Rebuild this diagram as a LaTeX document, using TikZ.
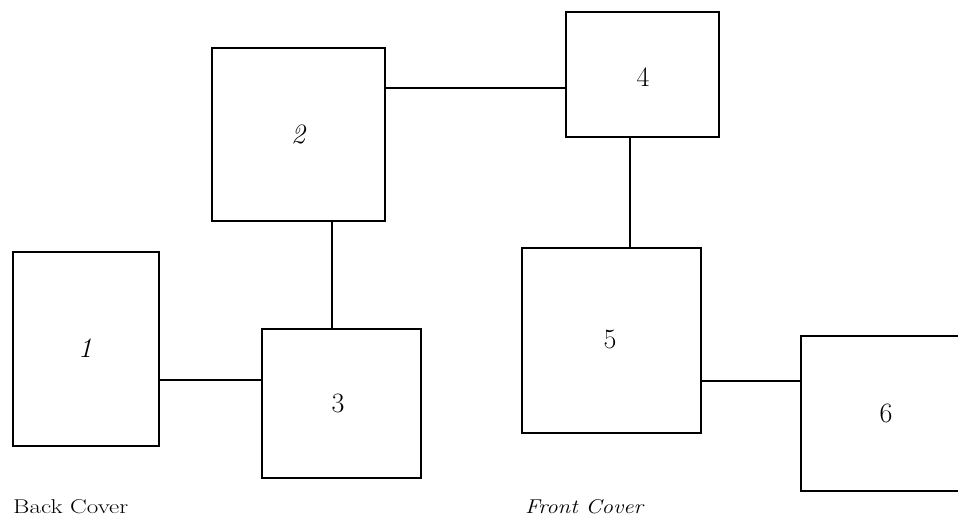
\documentclass[tikz,border=0pt]{standalone}
\usepackage{fontspec}
\usepackage{graphicx}
\tikzset{
  x=1pt, y=-1pt,
  box/.style={draw, line width=1.7pt, rectangle, inner sep=0pt, outer sep=0pt},
  link/.style={line width=1.7pt},
  num/.style={font=\fontsize{28}{32}\selectfont, inner sep=0pt},
  cover/.style={font=\fontsize{20}{24}\selectfont, inner sep=0pt, anchor=base west}
}
\begin{document}
\begin{tikzpicture}
\useasboundingbox (0,0) rectangle (958,517);
\clip (0,0) rectangle (958,517);
% boxes
\node[box, minimum width=146pt, minimum height=194pt] (b1) at (86,349) {};
\node[box, minimum width=173pt, minimum height=173pt] (b2) at (298.5,134.5) {};
\node[box, minimum width=159pt, minimum height=149pt] (b3) at (341.5,403.5) {};
\node[box, minimum width=153pt, minimum height=125pt] (b4) at (642.5,74.5) {};
\node[box, minimum width=179pt, minimum height=185pt] (b5) at (611.5,340.5) {};
\node[box, minimum width=171pt, minimum height=155pt] (b6) at (886.5,413.5) {};
% numbers
\node[num] (n1) at (85,348) {\itshape 1};
\node[num] (n2) at (298,134) {\itshape 2};
\node[num] (n3) at (338,403) {3};
\node[num] (n4) at (643,77) {4};
\node[num] (n5) at (610,339) {5};
\node[num] (n6) at (886,413) {6};
% connectors
\draw[link] (b1.east |- 0,380) -- (b3.west |- 0,380);
\draw[link] (b2.south -| 332,0) -- (b3.north -| 332,0);
\draw[link] (b2.east |- 0,88) -- (b4.west |- 0,88);
\draw[link] (b4.south -| 630,0) -- (b5.north -| 630,0);
\draw[link] (b5.east |- 0,381) -- (b6.west |- 0,381);
% captions
\node[cover] (back) at (13,513) {\scalebox{1.25}[1]{Back Cover}};
\node[cover] (front) at (525,513) {\scalebox{1.14}[1]{\itshape Front Cover}};
\end{tikzpicture}
\end{document}
